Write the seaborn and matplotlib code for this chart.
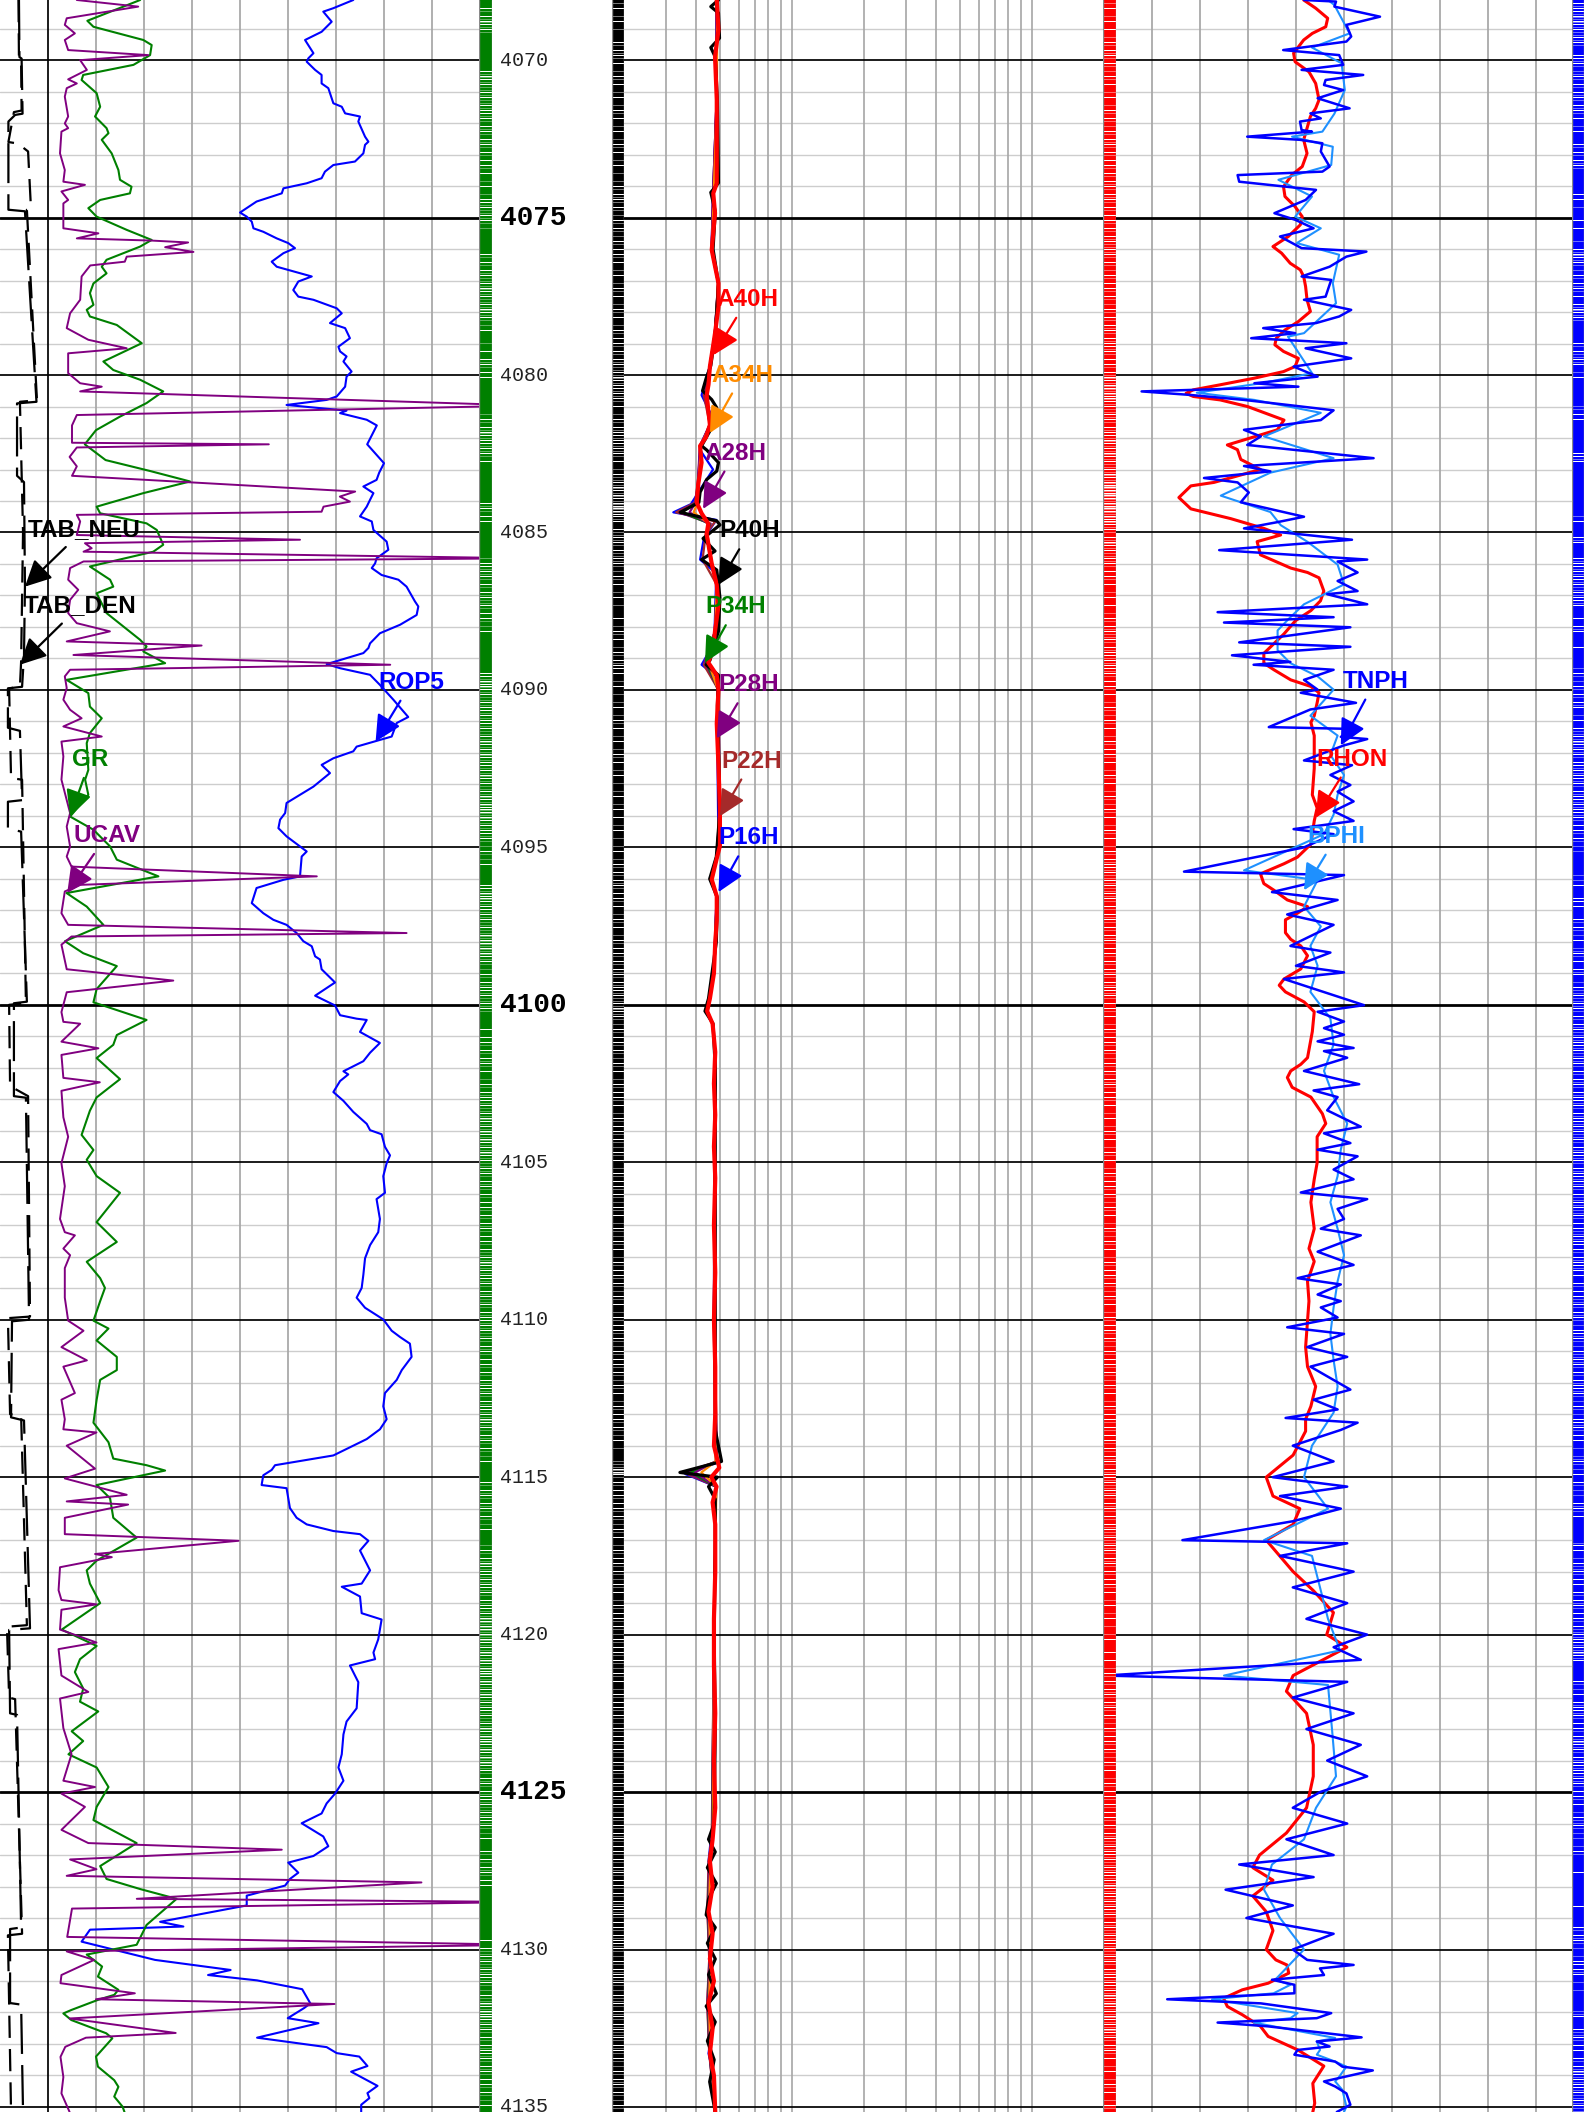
import numpy as np
import matplotlib
matplotlib.use("Agg")
import matplotlib.pyplot as plt
from matplotlib import font_manager
from matplotlib.colors import ListedColormap
import seaborn as sns

sns.set_theme(style="white")
plt.rcParams["font.family"] = ["DejaVu Sans"]

TOP, BASE = 4068.09, 4135.16

# ---------------- track 1 curves (depth ft, value) ----------------
GR = [(4068.09, 43.8), (4068.75, 27.3), (4068.94, 29.2), (4069.36, 44.8), (4069.52, 47.4), (4069.84, 46.9),
      (4070.15, 41.7), (4070.47, 26.0), (4070.63, 25.5), (4071.05, 30.2), (4071.48, 31.3), (4071.79, 29.7),
      (4072.16, 33.3), (4072.32, 33.9), (4072.53, 31.8), (4072.96, 34.9), (4073.49, 37.0), (4073.80, 37.5),
      (4074.02, 41.1), (4074.23, 40.6), (4074.44, 31.3), (4074.70, 27.6), (4074.97, 30.2), (4075.39, 39.6),
      (4075.71, 47.4), (4075.92, 43.8), (4076.34, 33.3), (4076.56, 31.8), (4076.77, 33.3), (4077.09, 29.2),
      (4077.40, 28.1), (4077.77, 29.2), (4077.93, 27.1), (4078.14, 28.1), (4078.41, 36.5), (4078.99, 44.3),
      (4079.57, 32.3), (4079.84, 35.4), (4080.15, 43.8), (4080.52, 51.0), (4080.89, 45.8), (4081.32, 37.5),
      (4081.75, 30.0), (4082.20, 26.5), (4082.70, 33.0), (4083.05, 47.0), (4083.38, 59.4), (4083.75, 44.8),
      (4084.18, 30.2), (4084.39, 31.3), (4084.71, 45.8), (4084.92, 49.0), (4085.39, 51.0), (4085.61, 47.9),
      (4086.08, 28.1), (4086.50, 34.4), (4086.72, 35.4), (4086.93, 30.2), (4087.56, 33.3), (4088.41, 43.8),
      (4088.62, 45.8), (4088.78, 44.8), (4089.15, 51.6), (4089.68, 20.8), (4090.10, 27.6), (4090.53, 28.1),
      (4090.90, 31.8), (4091.37, 28.1), (4091.69, 27.1), (4092.54, 27.6), (4092.85, 26.6), (4093.33, 27.6),
      (4094.02, 21.9), (4094.44, 29.2), (4094.97, 34.4), (4095.39, 36.5), (4095.92, 49.5), (4096.45, 20.8),
      (4096.88, 27.1), (4097.46, 32.3), (4097.98, 20.3), (4098.36, 26.0), (4098.77, 36.5), (4099.50, 30.2),
      (4099.92, 29.2), (4100.48, 45.8), (4100.96, 36.5), (4101.27, 35.4), (4101.69, 30.2), (4102.36, 37.5),
      (4102.94, 30.2), (4103.36, 28.1), (4104.13, 25.5), (4104.61, 29.2), (4104.92, 27.1), (4105.44, 30.2),
      (4105.97, 37.5), (4106.90, 30.2), (4107.53, 36.5), (4108.16, 27.1), (4108.68, 31.3), (4108.99, 32.8),
      (4109.41, 31.3), (4110.03, 29.2), (4110.28, 33.9), (4110.66, 30.2), (4111.18, 36.5), (4111.60, 36.5),
      (4111.91, 31.3), (4112.54, 30.2), (4113.27, 29.2), (4113.89, 33.9), (4114.41, 35.4), (4114.62, 45.8),
      (4114.79, 51.6), (4115.25, 30.2), (4115.67, 34.4), (4116.29, 35.4), (4116.92, 42.7), (4117.65, 30.2),
      (4117.96, 27.1), (4118.38, 28.1), (4119.00, 31.3), (4119.84, 19.3), (4120.36, 30.2), (4120.78, 25.0),
      (4121.19, 23.4), (4121.71, 26.0), (4122.13, 25.0), (4122.44, 30.7), (4123.07, 22.4), (4123.38, 26.0),
      (4123.80, 21.4), (4124.22, 30.2), (4124.84, 33.9), (4125.47, 30.2), (4125.89, 29.2), (4126.62, 42.7),
      (4127.35, 31.3), (4127.76, 33.3), (4128.08, 43.8), (4128.39, 55.2), (4129.22, 45.8), (4129.85, 42.7),
      (4130.16, 27.1), (4130.54, 31.9), (4130.86, 30.6), (4131.28, 37.0), (4131.44, 35.7), (4131.60, 30.6),
      (4131.92, 22.3), (4132.03, 19.8), (4132.24, 22.3), (4132.66, 33.2), (4132.82, 35.1), (4133.40, 30.0),
      (4133.72, 30.6), (4134.15, 35.7), (4134.36, 37.0), (4134.67, 35.7), (4134.99, 38.3), (4135.16, 38.9)]

UCAV = [(4068.09, 7.60), (4068.30, 8.88), (4068.67, 7.39), (4068.88, 7.35), (4069.15, 7.56), (4069.36, 7.35),
        (4069.68, 7.42), (4069.84, 9.09), (4070.00, 7.67), (4070.31, 7.81), (4070.61, 7.42), (4070.74, 7.60),
        (4070.89, 7.39), (4071.16, 7.35), (4071.79, 7.42), (4072.01, 7.35), (4072.16, 7.42), (4072.27, 7.28),
        (4072.96, 7.25), (4073.49, 7.35), (4073.86, 7.32), (4073.96, 7.77), (4074.17, 7.28), (4074.44, 7.42),
        (4074.55, 7.32), (4075.34, 7.32), (4075.50, 8.05), (4075.66, 7.60), (4075.73, 9.16), (4075.79, 9.92),
        (4075.94, 9.44), (4076.09, 10.03), (4076.24, 8.64), (4076.40, 8.60), (4076.52, 7.88), (4076.87, 7.70),
        (4077.61, 7.67), (4078.04, 7.46), (4078.51, 7.39), (4078.88, 7.84), (4079.15, 8.64), (4079.31, 7.42),
        (4079.94, 7.42), (4080.26, 7.67), (4080.37, 8.12), (4080.52, 7.67), (4080.97, 17.0), (4081.27, 7.60),
        (4081.60, 7.50), (4082.15, 7.50), (4082.20, 11.60), (4082.30, 7.60), (4082.60, 7.45), (4082.90, 7.60),
        (4083.20, 7.50), (4083.33, 9.06), (4083.70, 13.40), (4083.86, 13.08), (4084.02, 13.29), (4084.18, 12.74),
        (4084.34, 12.70), (4084.44, 7.60), (4084.65, 7.67), (4085.08, 7.60), (4085.23, 12.25), (4085.34, 7.77),
        (4085.50, 7.91), (4085.61, 7.74), (4085.82, 17.0), (4085.92, 7.74), (4086.13, 7.46), (4086.50, 7.42),
        (4086.82, 7.63), (4087.14, 7.46), (4087.56, 7.42), (4087.88, 7.60), (4088.14, 8.29), (4088.46, 7.39),
        (4088.59, 10.20), (4088.89, 7.53), (4089.20, 14.13), (4089.36, 7.46), (4089.57, 7.35), (4089.94, 7.39),
        (4090.31, 7.32), (4090.63, 7.46), (4090.90, 7.70), (4091.16, 7.32), (4091.48, 8.12), (4091.64, 7.28),
        (4092.11, 7.32), (4092.85, 7.28), (4093.49, 7.39), (4093.91, 7.46), (4094.34, 7.39), (4094.97, 7.46),
        (4095.29, 7.39), (4095.61, 7.49), (4095.92, 12.60), (4096.19, 7.67), (4096.40, 7.35), (4097.09, 7.28),
        (4097.46, 7.42), (4097.72, 14.47), (4097.83, 7.49), (4098.09, 7.28), (4098.87, 7.39), (4099.23, 9.61),
        (4099.60, 7.39), (4100.23, 7.28), (4100.54, 7.32), (4100.60, 7.67), (4101.17, 7.28), (4101.38, 8.05),
        (4101.59, 7.28), (4102.32, 7.32), (4102.46, 8.08), (4102.73, 7.28), (4103.57, 7.32), (4104.19, 7.42),
        (4105.03, 7.28), (4105.76, 7.35), (4106.80, 7.25), (4107.22, 7.35), (4107.32, 7.56), (4107.74, 7.32),
        (4107.95, 7.46), (4108.36, 7.35), (4109.30, 7.35), (4110.03, 7.42), (4110.35, 7.74), (4110.87, 7.28),
        (4111.29, 7.81), (4111.49, 7.32), (4112.33, 7.56), (4112.54, 7.28), (4113.16, 7.35), (4113.48, 7.32),
        (4113.58, 8.01), (4114.00, 7.39), (4114.73, 7.98), (4115.04, 7.35), (4115.56, 8.64), (4115.77, 7.39),
        (4115.87, 8.67), (4116.29, 7.35), (4116.81, 7.35), (4117.02, 10.97), (4117.44, 7.98), (4117.54, 8.33),
        (4117.86, 7.25), (4118.59, 7.22), (4118.90, 7.28), (4119.04, 8.01), (4119.21, 7.28), (4119.84, 7.25),
        (4120.25, 8.01), (4120.46, 7.22), (4121.30, 7.28), (4121.82, 7.84), (4122.03, 7.25), (4122.97, 7.32),
        (4123.80, 7.49), (4124.64, 7.32), (4124.84, 7.98), (4125.05, 7.28), (4125.47, 7.77), (4126.20, 7.28),
        (4126.62, 7.84), (4126.83, 11.87), (4127.14, 7.46), (4127.45, 8.01), (4127.66, 7.39), (4127.87, 14.78),
        (4128.39, 8.85), (4128.49, 17.0), (4128.70, 7.50), (4129.60, 7.40), (4129.85, 17.0), (4130.06, 7.39),
        (4130.33, 7.96), (4130.81, 7.28), (4131.07, 7.26), (4131.39, 8.81), (4131.58, 8.00), (4131.73, 12.97),
        (4132.19, 7.45), (4132.65, 9.66), (4132.80, 7.79), (4133.09, 7.36), (4133.41, 7.26), (4134.05, 7.32),
        (4134.57, 7.28), (4135.16, 7.45)]

ROP5 = [(4068.09, 147.2), (4068.35, 138.9), (4068.46, 134.7), (4068.78, 138.2), (4069.10, 134.0), (4069.36, 127.1),
        (4069.78, 130.6), (4069.94, 128.5), (4070.05, 127.8), (4070.31, 131.3), (4070.47, 134.0), (4070.74, 134.0),
        (4070.89, 136.8), (4071.37, 138.9), (4071.48, 142.4), (4071.69, 143.8), (4071.79, 150.0), (4071.95, 149.3),
        (4072.43, 152.1), (4072.59, 153.5), (4072.69, 152.1), (4072.96, 151.4), (4073.22, 147.9), (4073.33, 138.9),
        (4073.54, 135.4), (4073.75, 134.0), (4073.91, 127.8), (4074.07, 118.1), (4074.23, 117.4), (4074.49, 106.9),
        (4074.84, 100.0), (4074.97, 102.8), (4075.13, 104.9), (4075.34, 105.6), (4075.45, 109.7), (4075.66, 115.3),
        (4075.81, 120.1), (4075.97, 122.9), (4076.13, 118.1), (4076.40, 113.2), (4076.56, 115.3), (4076.87, 129.9),
        (4077.03, 124.3), (4077.30, 122.2), (4077.51, 124.3), (4077.61, 130.6), (4077.88, 140.3), (4078.04, 142.4),
        (4078.35, 137.5), (4078.51, 143.8), (4078.83, 145.8), (4079.10, 141.0), (4079.25, 141.7), (4079.41, 144.4),
        (4079.57, 143.1), (4079.89, 146.5), (4080.05, 144.4), (4080.37, 143.8), (4080.68, 140.3), (4080.79, 136.1),
        (4080.95, 119.4), (4081.13, 144.4), (4081.21, 141.7), (4081.42, 152.8), (4081.60, 157.0), (4082.20, 153.0),
        (4082.80, 160.0), (4083.10, 158.0), (4083.33, 156.9), (4083.54, 151.4), (4083.75, 155.6), (4083.96, 154.2),
        (4084.18, 152.8), (4084.49, 150.0), (4084.65, 154.9), (4084.92, 155.6), (4085.29, 161.1), (4085.55, 161.8),
        (4085.82, 156.9), (4085.98, 156.3), (4086.13, 154.9), (4086.35, 159.0), (4086.50, 166.0), (4086.72, 169.4),
        (4087.19, 172.9), (4087.35, 174.3), (4087.62, 173.6), (4087.93, 166.7), (4088.20, 158.3), (4088.52, 154.2),
        (4088.67, 153.5), (4088.83, 151.4), (4088.99, 144.4), (4089.18, 136.1), (4089.31, 141.7), (4089.52, 154.2),
        (4089.84, 158.3), (4090.31, 163.9), (4090.86, 170.1), (4091.05, 165.3), (4091.48, 163.2), (4091.80, 148.6),
        (4091.95, 147.2), (4092.17, 138.9), (4092.38, 134.0), (4092.64, 137.5), (4093.07, 130.6), (4093.59, 119.4),
        (4093.91, 118.8), (4094.12, 116.7), (4094.39, 116.0), (4094.65, 119.4), (4094.97, 125.0), (4095.13, 127.8),
        (4095.29, 125.7), (4095.92, 125.0), (4096.03, 118.1), (4096.29, 106.9), (4096.77, 104.9), (4097.09, 109.7),
        (4097.30, 113.9), (4097.46, 119.4), (4097.72, 123.6), (4097.98, 126.4), (4098.14, 129.9), (4098.46, 131.3),
        (4098.56, 133.3), (4098.87, 134.0), (4099.29, 139.6), (4099.71, 131.3), (4100.02, 139.6), (4100.33, 141.7),
        (4100.44, 148.6), (4100.48, 152.8), (4100.86, 150.0), (4101.21, 158.3), (4101.52, 154.2), (4101.79, 151.4),
        (4102.11, 143.1), (4102.21, 145.1), (4102.42, 141.7), (4102.77, 138.9), (4103.05, 143.1), (4103.40, 147.2),
        (4103.78, 152.8), (4103.98, 154.2), (4104.11, 159.0), (4104.51, 160.4), (4104.78, 162.5), (4105.03, 161.1),
        (4105.44, 159.7), (4105.97, 160.4), (4106.17, 156.9), (4106.80, 158.3), (4107.22, 157.6), (4107.63, 154.2),
        (4108.05, 152.1), (4108.57, 151.4), (4108.99, 150.7), (4109.30, 148.6), (4109.62, 152.1), (4109.99, 159.7),
        (4110.35, 163.2), (4110.55, 166.7), (4110.76, 170.8), (4111.18, 171.5), (4111.60, 167.4), (4111.91, 165.3),
        (4112.33, 160.4), (4112.75, 159.7), (4113.16, 161.1), (4113.48, 158.3), (4113.79, 152.8), (4114.31, 138.9),
        (4114.62, 114.6), (4114.77, 113.2), (4114.94, 109.7), (4115.25, 109.0), (4115.35, 119.4), (4115.98, 120.8),
        (4116.29, 123.6), (4116.50, 127.8), (4116.71, 138.9), (4116.81, 150.0), (4117.02, 153.5), (4117.33, 150.0),
        (4117.96, 154.2), (4118.38, 150.7), (4118.48, 142.4), (4118.79, 150.0), (4119.32, 150.7), (4119.52, 159.0),
        (4120.15, 157.6), (4120.57, 155.6), (4120.78, 156.3), (4120.98, 145.8), (4121.51, 149.3), (4122.34, 148.6),
        (4122.76, 144.4), (4123.17, 143.1), (4123.80, 142.4), (4124.22, 141.0), (4124.64, 143.1), (4125.05, 139.6),
        (4125.36, 136.1), (4125.68, 134.0), (4125.99, 125.7), (4126.41, 134.7), (4126.72, 136.8), (4127.03, 130.6),
        (4127.24, 120.1), (4127.56, 124.3), (4127.76, 120.8), (4127.97, 118.8), (4128.29, 102.8), (4128.60, 102.8),
        (4129.12, 66.7), (4129.27, 76.4), (4129.37, 37.5), (4129.75, 34.0), (4130.33, 64.6), (4130.65, 96.1),
        (4130.81, 86.7), (4130.98, 107.1), (4131.26, 125.9), (4131.71, 129.3), (4131.86, 126.7), (4132.18, 119.9),
        (4132.34, 132.7), (4132.80, 107.1), (4133.10, 136.1), (4133.29, 140.3), (4133.40, 149.7), (4133.70, 153.1),
        (4133.88, 146.3), (4134.33, 157.3), (4134.56, 153.1), (4134.72, 153.9), (4134.93, 150.5), (4135.16, 150.5)]

TAB_NEU = [(4068.09, 0.79), (4069.90, 0.81), (4069.95, 0.90), (4071.70, 0.94), (4071.74, 0.63), (4071.95, 0.35),
           (4074.75, 0.35), (4074.80, 1.04), (4080.85, 1.52), (4080.90, 0.71), (4083.20, 0.71), (4083.40, 1.00),
           (4086.70, 1.04), (4088.90, 1.00), (4089.90, 0.92), (4089.95, 0.33), (4091.20, 0.33), (4091.30, 0.83),
           (4093.50, 0.92), (4093.55, 0.33), (4094.40, 0.33), (4094.50, 0.88), (4099.90, 1.12), (4099.95, 0.58),
           (4102.90, 0.58), (4102.95, 1.08), (4110.00, 1.21), (4110.05, 0.50), (4113.10, 0.46), (4113.20, 1.00),
           (4119.80, 1.25), (4119.85, 0.38), (4122.50, 0.42), (4122.55, 0.71), (4129.30, 0.88), (4129.35, 0.42),
           (4131.70, 0.42), (4131.75, 0.88), (4135.16, 0.96)]

TAB_DEN = [(4068.09, 0.77), (4070.00, 0.79), (4070.05, 0.88), (4071.60, 0.90), (4071.65, 0.58), (4072.60, 0.35),
           (4072.65, 0.75), (4072.90, 1.17), (4074.70, 1.29), (4074.75, 1.12), (4080.80, 1.54), (4080.85, 0.83),
           (4085.00, 0.96), (4089.10, 0.88), (4089.90, 0.83), (4089.95, 0.38), (4092.80, 0.46), (4092.85, 0.92),
           (4099.95, 1.08), (4100.00, 0.38), (4102.60, 0.42), (4102.65, 0.58), (4102.90, 1.17), (4109.90, 1.25),
           (4109.95, 0.33), (4113.00, 0.42), (4113.05, 0.88), (4119.70, 1.12), (4119.75, 0.29), (4122.00, 0.38),
           (4122.05, 0.63), (4129.50, 0.92), (4129.55, 0.33), (4135.16, 0.46)]

# ---------------- track 2 resistivities (ohm.m) ----------------
A40H = [(4068.09, 4.87), (4069.04, 4.95), (4069.89, 4.79), (4071.26, 4.87), (4073.91, 4.87), (4074.23, 4.71),
        (4074.86, 4.79), (4076.03, 4.64), (4077.08, 4.95), (4077.83, 4.95), (4078.67, 4.79), (4079.04, 4.71),
        (4079.73, 4.56), (4080.30, 4.50), (4080.64, 4.42), (4081.58, 4.56), (4081.98, 4.39), (4082.25, 4.15),
        (4082.78, 4.21), (4083.45, 4.08), (4084.05, 4.02), (4084.39, 4.21), (4084.72, 4.49), (4085.05, 4.42),
        (4085.99, 4.64), (4086.66, 4.87), (4087.33, 4.95), (4088.13, 4.79), (4088.66, 4.71), (4089.13, 4.49),
        (4089.53, 4.87), (4090.00, 4.95), (4091.07, 4.87), (4092.41, 4.95), (4093.74, 5.02), (4094.95, 5.02),
        (4095.35, 4.87), (4096.02, 4.64), (4096.55, 4.87), (4097.33, 4.87), (4098.00, 4.80), (4099.00, 4.74),
        (4099.80, 4.56), (4100.20, 4.44), (4100.60, 4.68), (4101.50, 4.80), (4102.50, 4.74), (4103.50, 4.80),
        (4104.50, 4.74), (4105.50, 4.80), (4107.00, 4.74), (4108.50, 4.80), (4110.00, 4.74), (4111.50, 4.80),
        (4113.00, 4.80), (4114.00, 4.74), (4114.70, 4.99), (4115.00, 4.62), (4115.30, 4.86), (4115.80, 4.68),
        (4116.50, 4.80), (4118.00, 4.80), (4119.50, 4.74), (4121.00, 4.74), (4122.50, 4.80), (4124.00, 4.74),
        (4125.50, 4.80), (4126.50, 4.68), (4127.20, 4.56), (4128.00, 4.68), (4128.80, 4.50), (4129.50, 4.68),
        (4130.30, 4.56), (4131.00, 4.74), (4131.70, 4.50), (4132.50, 4.68), (4133.30, 4.56), (4134.00, 4.74),
        (4135.16, 4.80)]

A34H = [(4068.09, 4.89), (4071.26, 4.88), (4074.23, 4.73), (4076.03, 4.66), (4077.08, 4.93), (4078.67, 4.80),
        (4079.73, 4.58), (4080.64, 4.45), (4081.58, 4.58), (4082.25, 4.18), (4083.45, 4.10), (4084.05, 4.05),
        (4084.36, 3.90), (4084.72, 4.52), (4085.05, 4.45), (4085.99, 4.66), (4086.66, 4.88), (4088.13, 4.80),
        (4089.13, 4.50), (4090.00, 4.93), (4093.74, 5.00), (4095.35, 4.88), (4096.02, 4.66), (4096.55, 4.88),
        (4099.00, 4.75), (4100.20, 4.46), (4100.60, 4.69), (4101.50, 4.80), (4110.00, 4.75), (4114.50, 4.82),
        (4114.85, 4.20), (4115.30, 4.85), (4120.00, 4.75), (4126.50, 4.69), (4127.20, 4.58), (4128.80, 4.52),
        (4130.30, 4.58), (4131.70, 4.52), (4133.30, 4.58), (4135.16, 4.80)]

A28H = [(4068.09, 4.86), (4071.26, 4.86), (4074.23, 4.70), (4076.03, 4.63), (4077.08, 4.93), (4078.67, 4.78),
        (4079.73, 4.55), (4080.64, 4.40), (4081.58, 4.55), (4082.25, 4.14), (4083.45, 4.06), (4084.05, 3.98),
        (4084.36, 3.75), (4084.72, 4.50), (4085.05, 4.40), (4085.99, 4.63), (4086.66, 4.86), (4088.13, 4.78),
        (4089.13, 4.47), (4090.00, 4.93), (4093.74, 5.00), (4095.35, 4.86), (4096.02, 4.62), (4096.55, 4.86),
        (4099.00, 4.73), (4100.20, 4.43), (4100.60, 4.67), (4101.50, 4.79), (4110.00, 4.73), (4114.50, 4.82),
        (4114.85, 3.95), (4115.30, 4.84), (4120.00, 4.73), (4126.50, 4.67), (4127.20, 4.55), (4128.80, 4.49),
        (4130.30, 4.55), (4131.70, 4.49), (4133.30, 4.55), (4135.16, 4.79)]

P40H = [(4068.09, 4.95), (4068.30, 4.60), (4068.50, 4.95), (4069.30, 5.00), (4069.60, 4.60), (4069.90, 4.80),
        (4071.30, 4.90), (4073.90, 4.95), (4074.20, 4.60), (4074.80, 4.80), (4076.00, 4.70), (4077.10, 4.95),
        (4078.70, 4.80), (4079.70, 4.60), (4080.10, 4.40), (4080.50, 4.25), (4080.78, 4.64), (4081.04, 4.87),
        (4081.58, 4.71), (4082.25, 4.21), (4082.38, 4.42), (4082.78, 4.95), (4083.05, 4.87), (4083.32, 4.42),
        (4083.72, 4.15), (4084.05, 4.10), (4084.36, 3.43), (4084.63, 4.87), (4084.76, 5.02), (4085.19, 4.27),
        (4085.59, 4.79), (4085.86, 4.21), (4086.19, 4.87), (4087.06, 5.02), (4088.13, 4.95), (4089.06, 4.56),
        (4089.20, 4.40), (4089.53, 4.95), (4090.50, 4.90), (4092.00, 4.95), (4094.00, 5.00), (4095.30, 4.85),
        (4096.00, 4.55), (4096.60, 4.90), (4098.00, 4.85), (4099.80, 4.50), (4100.20, 4.35), (4100.60, 4.70),
        (4102.00, 4.80), (4105.00, 4.80), (4108.00, 4.80), (4111.00, 4.80), (4113.50, 4.80), (4114.50, 5.10),
        (4114.85, 3.42), (4115.00, 4.90), (4115.30, 4.50), (4115.70, 4.80), (4117.00, 4.80), (4120.00, 4.75),
        (4123.00, 4.80), (4126.00, 4.75), (4126.50, 4.50), (4126.90, 4.80), (4127.40, 4.45), (4127.90, 4.85),
        (4128.40, 4.50), (4128.90, 4.40), (4129.30, 4.80), (4129.80, 4.45), (4130.30, 4.80), (4130.80, 4.50),
        (4131.40, 4.85), (4131.80, 4.40), (4132.30, 4.80), (4132.90, 4.45), (4133.50, 4.75), (4134.20, 4.55),
        (4135.16, 4.80)]

P34H = [(4068.09, 4.88), (4071.26, 4.87), (4074.23, 4.72), (4076.03, 4.65), (4077.08, 4.94), (4078.67, 4.79),
        (4079.73, 4.57), (4080.64, 4.40), (4081.58, 4.56), (4082.25, 4.16), (4083.45, 4.08), (4084.05, 4.00),
        (4084.36, 3.50), (4084.72, 4.55), (4085.05, 4.42), (4085.99, 4.64), (4086.66, 4.87), (4088.13, 4.79),
        (4089.13, 4.40), (4090.00, 4.94), (4093.74, 5.01), (4095.35, 4.87), (4096.02, 4.63), (4096.55, 4.87),
        (4099.00, 4.74), (4100.20, 4.42), (4100.60, 4.68), (4101.50, 4.80), (4110.00, 4.74), (4114.50, 4.85),
        (4114.85, 3.80), (4115.30, 4.84), (4120.00, 4.74), (4126.50, 4.66), (4127.20, 4.54), (4128.80, 4.48),
        (4130.30, 4.55), (4131.70, 4.47), (4133.30, 4.55), (4135.16, 4.79)]

P28H = [(4068.09, 4.87), (4071.26, 4.87), (4074.23, 4.71), (4076.03, 4.64), (4077.08, 4.95), (4078.67, 4.79),
        (4079.73, 4.56), (4080.64, 4.36), (4081.58, 4.56), (4082.25, 4.15), (4083.45, 4.07), (4084.05, 3.98),
        (4084.36, 3.40), (4084.72, 4.60), (4085.05, 4.40), (4085.99, 4.64), (4086.66, 4.87), (4088.13, 4.79),
        (4089.13, 4.35), (4090.00, 4.95), (4093.74, 5.02), (4095.35, 4.87), (4096.02, 4.62), (4096.55, 4.87),
        (4099.00, 4.74), (4100.20, 4.40), (4100.60, 4.68), (4101.50, 4.80), (4110.00, 4.74), (4114.50, 4.88),
        (4114.85, 3.65), (4115.30, 4.84), (4120.00, 4.74), (4126.50, 4.65), (4127.20, 4.52), (4128.80, 4.46),
        (4130.30, 4.54), (4131.70, 4.45), (4133.30, 4.54), (4135.16, 4.79)]

P22H = [(4068.09, 4.87), (4071.26, 4.86), (4074.23, 4.70), (4076.03, 4.64), (4077.08, 4.94), (4078.67, 4.78),
        (4079.73, 4.55), (4080.64, 4.30), (4081.58, 4.56), (4082.38, 4.16), (4083.45, 4.06), (4084.05, 3.95),
        (4084.36, 3.30), (4084.65, 4.80), (4085.05, 4.38), (4085.86, 4.25), (4086.66, 4.87), (4088.13, 4.79),
        (4089.20, 4.30), (4090.00, 4.95), (4093.74, 5.02), (4095.35, 4.87), (4096.02, 4.61), (4096.55, 4.87),
        (4099.00, 4.74), (4100.20, 4.40), (4100.60, 4.68), (4101.50, 4.80), (4110.00, 4.74), (4114.50, 4.90),
        (4114.85, 3.55), (4115.30, 4.84), (4120.00, 4.74), (4126.50, 4.64), (4127.20, 4.50), (4128.80, 4.45),
        (4130.30, 4.53), (4131.70, 4.44), (4133.30, 4.53), (4135.16, 4.79)]

P16H = [(4068.09, 4.86), (4071.26, 4.86), (4074.23, 4.70), (4076.03, 4.63), (4077.08, 4.94), (4078.67, 4.78),
        (4079.73, 4.55), (4080.64, 4.21), (4081.20, 4.58), (4081.58, 4.55), (4082.38, 4.15), (4083.00, 4.70),
        (4083.70, 4.10), (4084.10, 3.80), (4084.36, 3.21), (4084.60, 4.85), (4085.20, 4.30), (4085.86, 4.15),
        (4086.30, 4.85), (4088.50, 4.75), (4089.20, 4.21), (4089.60, 4.90), (4092.00, 4.90), (4095.00, 4.95),
        (4096.02, 4.60), (4096.55, 4.86), (4099.00, 4.74), (4100.20, 4.42), (4100.60, 4.68), (4101.50, 4.80),
        (4110.00, 4.74), (4114.55, 4.85), (4114.90, 3.60), (4115.30, 4.84), (4120.00, 4.74), (4124.00, 4.74),
        (4125.50, 4.79), (4126.50, 4.60), (4127.20, 4.50), (4128.00, 4.66), (4128.80, 4.45), (4129.50, 4.66),
        (4130.30, 4.52), (4131.00, 4.72), (4131.80, 4.45), (4132.50, 4.66), (4133.30, 4.50), (4134.00, 4.72),
        (4135.16, 4.78)]

# ---------------- track 3 porosity / density ----------------
RHON = [(4068.09, 2.366), (4068.35, 2.391), (4068.67, 2.416), (4068.94, 2.412), (4069.15, 2.384), (4069.36, 2.366),
        (4069.78, 2.345), (4070.05, 2.348), (4070.37, 2.377), (4070.74, 2.391), (4071.26, 2.398), (4071.53, 2.391),
        (4071.79, 2.380), (4072.16, 2.373), (4072.53, 2.366), (4072.96, 2.373), (4073.38, 2.363), (4073.65, 2.341),
        (4074.02, 2.324), (4074.33, 2.327), (4074.65, 2.348), (4074.97, 2.363), (4075.23, 2.359), (4075.60, 2.334),
        (4075.92, 2.302), (4076.13, 2.320), (4076.45, 2.338), (4076.66, 2.359), (4076.87, 2.366), (4077.19, 2.370),
        (4077.61, 2.373), (4077.98, 2.380), (4078.30, 2.355), (4078.57, 2.327), (4078.83, 2.309), (4079.04, 2.306),
        (4079.25, 2.324), (4079.47, 2.355), (4079.73, 2.348), (4079.89, 2.324), (4080.10, 2.263), (4080.31, 2.192),
        (4080.47, 2.136), (4080.58, 2.121), (4080.68, 2.136), (4080.79, 2.192), (4081.00, 2.249), (4081.43, 2.325),
        (4081.74, 2.311), (4082.22, 2.207), (4082.37, 2.228), (4082.68, 2.235), (4083.00, 2.276), (4083.41, 2.179),
        (4083.52, 2.131), (4083.89, 2.106), (4084.25, 2.131), (4084.56, 2.214), (4084.87, 2.283), (4085.08, 2.318),
        (4085.29, 2.269), (4085.71, 2.276), (4086.13, 2.339), (4086.27, 2.374), (4086.44, 2.398), (4086.86, 2.408),
        (4087.17, 2.401), (4087.48, 2.381), (4087.80, 2.349), (4088.22, 2.325), (4088.53, 2.304), (4088.84, 2.283),
        (4089.15, 2.283), (4089.36, 2.304), (4089.68, 2.339), (4089.89, 2.381), (4090.09, 2.398), (4090.41, 2.394),
        (4090.82, 2.388), (4091.03, 2.381), (4091.45, 2.388), (4092.49, 2.388), (4093.33, 2.384), (4093.75, 2.394),
        (4094.16, 2.388), (4094.90, 2.381), (4095.31, 2.353), (4095.52, 2.325), (4095.84, 2.276), (4096.15, 2.283),
        (4096.36, 2.304), (4096.67, 2.332), (4096.88, 2.374), (4097.09, 2.353), (4097.30, 2.328), (4097.71, 2.328),
        (4097.92, 2.339), (4098.13, 2.360), (4098.44, 2.374), (4098.86, 2.360), (4099.18, 2.325), (4099.38, 2.315),
        (4099.59, 2.328), (4099.91, 2.367), (4100.22, 2.388), (4100.85, 2.384), (4101.68, 2.374), (4101.89, 2.360),
        (4102.10, 2.339), (4102.31, 2.332), (4102.62, 2.342), (4102.93, 2.381), (4103.46, 2.405), (4103.77, 2.412),
        (4104.19, 2.394), (4105.02, 2.394), (4105.54, 2.388), (4106.27, 2.381), (4107.11, 2.388), (4107.74, 2.377),
        (4108.15, 2.388), (4108.78, 2.374), (4109.41, 2.377), (4110.03, 2.374), (4110.87, 2.370), (4111.49, 2.374),
        (4112.12, 2.391), (4112.75, 2.381), (4113.16, 2.370), (4113.54, 2.370), (4114.30, 2.344), (4115.00, 2.288),
        (4115.60, 2.302), (4116.00, 2.358), (4116.50, 2.344), (4117.00, 2.288), (4118.00, 2.344), (4118.60, 2.386),
        (4119.30, 2.428), (4120.00, 2.414), (4120.40, 2.456), (4121.30, 2.344), (4121.80, 2.330), (4122.50, 2.372),
        (4123.50, 2.386), (4124.50, 2.386), (4125.50, 2.372), (4126.30, 2.330), (4127.00, 2.274), (4127.40, 2.260),
        (4127.80, 2.302), (4128.30, 2.260), (4128.80, 2.288), (4129.40, 2.302), (4130.00, 2.288), (4130.33, 2.308),
        (4130.49, 2.331), (4130.75, 2.335), (4131.07, 2.292), (4131.28, 2.238), (4131.55, 2.199), (4131.81, 2.207),
        (4132.07, 2.238), (4132.44, 2.276), (4132.76, 2.292), (4133.19, 2.354), (4133.70, 2.408), (4134.25, 2.385),
        (4134.88, 2.389), (4135.16, 2.385)]

TNPH = [(4068.09, 0.200), (4068.14, 0.160), (4068.30, 0.162), (4068.62, 0.105), (4068.88, 0.147), (4069.25, 0.141),
        (4069.41, 0.147), (4069.68, 0.226), (4069.84, 0.156), (4070.15, 0.151), (4070.31, 0.203), (4070.47, 0.126),
        (4070.63, 0.173), (4070.79, 0.175), (4070.95, 0.151), (4071.21, 0.183), (4071.53, 0.143), (4071.69, 0.192),
        (4071.85, 0.179), (4071.95, 0.205), (4072.22, 0.203), (4072.27, 0.190), (4072.43, 0.271), (4072.53, 0.205),
        (4072.64, 0.177), (4072.90, 0.179), (4073.38, 0.168), (4073.54, 0.177), (4073.65, 0.283), (4073.86, 0.281),
        (4074.12, 0.185), (4074.44, 0.198), (4074.86, 0.237), (4075.07, 0.211), (4075.34, 0.188), (4075.60, 0.230),
        (4075.97, 0.203), (4076.08, 0.122), (4076.24, 0.147), (4076.56, 0.168), (4076.87, 0.203), (4076.98, 0.166),
        (4077.51, 0.173), (4077.61, 0.200), (4077.93, 0.141), (4078.14, 0.156), (4078.35, 0.185), (4078.51, 0.251),
        (4078.67, 0.211), (4078.83, 0.266), (4078.99, 0.147), (4079.15, 0.198), (4079.47, 0.141), (4079.73, 0.213),
        (4080.05, 0.183), (4080.26, 0.262), (4080.37, 0.207), (4080.52, 0.403), (4080.63, 0.343), (4080.79, 0.275),
        (4080.95, 0.220), (4081.12, 0.163), (4081.43, 0.179), (4081.74, 0.275), (4081.95, 0.254), (4082.22, 0.271),
        (4082.64, 0.113), (4082.89, 0.275), (4083.06, 0.242), (4083.27, 0.325), (4083.41, 0.283), (4083.73, 0.269),
        (4084.04, 0.279), (4084.50, 0.200), (4084.67, 0.233), (4084.87, 0.275), (4085.23, 0.140), (4085.56, 0.306),
        (4085.86, 0.121), (4085.92, 0.158), (4086.27, 0.133), (4086.54, 0.158), (4086.86, 0.133), (4086.96, 0.171),
        (4087.28, 0.121), (4087.53, 0.308), (4087.69, 0.163), (4087.86, 0.300), (4088.01, 0.142), (4088.49, 0.281),
        (4088.63, 0.142), (4088.90, 0.290), (4089.11, 0.217), (4089.20, 0.263), (4089.36, 0.163), (4089.68, 0.200),
        (4089.99, 0.183), (4090.09, 0.204), (4090.41, 0.135), (4090.62, 0.192), (4091.18, 0.244), (4091.24, 0.138),
        (4091.49, 0.154), (4091.56, 0.121), (4091.76, 0.150), (4092.24, 0.200), (4092.39, 0.140), (4092.70, 0.167),
        (4093.02, 0.142), (4093.23, 0.158), (4093.54, 0.138), (4093.85, 0.163), (4094.16, 0.138), (4094.42, 0.213),
        (4094.58, 0.163), (4095.00, 0.200), (4095.77, 0.350), (4095.88, 0.150), (4096.42, 0.240), (4096.67, 0.158),
        (4097.13, 0.221), (4097.46, 0.163), (4098.13, 0.217), (4098.34, 0.167), (4098.76, 0.210), (4098.97, 0.150),
        (4099.18, 0.225), (4100.01, 0.125), (4100.22, 0.183), (4100.53, 0.150), (4100.74, 0.175), (4100.95, 0.150),
        (4101.16, 0.183), (4101.37, 0.138), (4101.47, 0.175), (4101.68, 0.146), (4102.10, 0.200), (4102.52, 0.131),
        (4102.72, 0.188), (4102.93, 0.158), (4103.35, 0.171), (4103.87, 0.129), (4104.08, 0.175), (4104.39, 0.142),
        (4104.60, 0.183), (4104.81, 0.133), (4105.23, 0.163), (4105.54, 0.138), (4105.96, 0.204), (4106.17, 0.121),
        (4106.48, 0.158), (4106.80, 0.150), (4107.11, 0.179), (4107.32, 0.129), (4107.84, 0.183), (4108.26, 0.138),
        (4108.68, 0.208), (4108.88, 0.154), (4109.20, 0.183), (4109.41, 0.154), (4109.61, 0.179), (4109.93, 0.158),
        (4110.24, 0.221), (4110.45, 0.150), (4110.87, 0.196), (4111.18, 0.146), (4111.49, 0.192), (4112.22, 0.142),
        (4112.54, 0.188), (4112.85, 0.158), (4113.12, 0.223), (4113.27, 0.133), (4113.50, 0.154), (4114.00, 0.214),
        (4114.50, 0.163), (4115.00, 0.239), (4115.30, 0.146), (4115.60, 0.230), (4116.00, 0.154), (4116.40, 0.214),
        (4117.00, 0.352), (4117.10, 0.146), (4117.50, 0.230), (4118.00, 0.138), (4118.50, 0.214), (4119.00, 0.146),
        (4119.50, 0.197), (4120.00, 0.121), (4120.40, 0.163), (4120.80, 0.129), (4121.30, 0.449), (4121.50, 0.146),
        (4122.00, 0.214), (4122.50, 0.138), (4123.00, 0.197), (4123.50, 0.129), (4124.00, 0.171), (4124.50, 0.121),
        (4125.00, 0.180), (4125.50, 0.214), (4126.00, 0.146), (4126.50, 0.222), (4127.00, 0.163), (4127.30, 0.281),
        (4127.70, 0.188), (4128.10, 0.298), (4128.60, 0.214), (4129.00, 0.272), (4129.50, 0.163), (4130.00, 0.214),
        (4130.33, 0.196), (4130.49, 0.138), (4130.60, 0.180), (4130.81, 0.175), (4130.96, 0.240), (4131.12, 0.212),
        (4131.39, 0.212), (4131.58, 0.371), (4131.71, 0.254), (4132.02, 0.166), (4132.18, 0.184), (4132.32, 0.308),
        (4132.44, 0.245), (4132.79, 0.128), (4132.92, 0.184), (4133.08, 0.168), (4133.19, 0.208), (4133.34, 0.212),
        (4133.56, 0.161), (4133.72, 0.152), (4133.84, 0.114), (4134.19, 0.175), (4134.35, 0.161), (4134.57, 0.147),
        (4134.93, 0.142), (4135.16, 0.159)]

BPHI = [(4068.09, 0.170), (4068.25, 0.162), (4069.15, 0.143), (4069.60, 0.190), (4070.10, 0.153), (4070.95, 0.149),
        (4071.70, 0.162), (4072.27, 0.177), (4072.43, 0.215), (4072.75, 0.164), (4073.33, 0.166), (4073.80, 0.232),
        (4074.33, 0.190), (4074.97, 0.211), (4075.34, 0.179), (4075.81, 0.209), (4076.18, 0.156), (4077.08, 0.164),
        (4077.72, 0.160), (4078.67, 0.200), (4078.78, 0.220), (4079.94, 0.190), (4080.26, 0.253), (4080.56, 0.334),
        (4080.79, 0.262), (4081.20, 0.179), (4081.95, 0.250), (4082.64, 0.163), (4083.10, 0.242), (4083.83, 0.304),
        (4084.35, 0.242), (4084.77, 0.229), (4085.29, 0.196), (4086.02, 0.158), (4086.65, 0.150), (4087.28, 0.200),
        (4087.69, 0.217), (4088.11, 0.233), (4088.74, 0.233), (4089.15, 0.217), (4089.57, 0.183), (4089.99, 0.163),
        (4090.82, 0.192), (4091.45, 0.158), (4092.07, 0.167), (4092.70, 0.150), (4093.33, 0.158), (4093.96, 0.163),
        (4094.58, 0.175), (4095.73, 0.275), (4096.04, 0.183), (4096.88, 0.200), (4097.51, 0.179), (4098.13, 0.192),
        (4098.76, 0.183), (4099.59, 0.192), (4100.43, 0.167), (4101.26, 0.163), (4102.10, 0.175), (4102.93, 0.163),
        (4103.77, 0.146), (4104.60, 0.154), (4105.44, 0.158), (4106.27, 0.167), (4107.11, 0.158), (4107.95, 0.150),
        (4108.78, 0.158), (4109.61, 0.163), (4110.45, 0.167), (4111.28, 0.163), (4112.12, 0.158), (4112.95, 0.163),
        (4114.00, 0.190), (4115.00, 0.200), (4116.00, 0.170), (4117.00, 0.250), (4117.50, 0.190), (4118.50, 0.180),
        (4119.50, 0.170), (4120.50, 0.155), (4121.30, 0.300), (4121.60, 0.170), (4123.00, 0.165), (4124.50, 0.160),
        (4125.50, 0.185), (4126.50, 0.200), (4127.30, 0.240), (4128.10, 0.250), (4129.00, 0.230), (4130.00, 0.200),
        (4130.96, 0.236), (4131.12, 0.217), (4131.39, 0.238), (4131.58, 0.315), (4132.02, 0.208), (4132.18, 0.217),
        (4132.32, 0.263), (4132.81, 0.161), (4132.92, 0.184), (4133.19, 0.180), (4133.34, 0.184), (4133.56, 0.161),
        (4133.72, 0.147), (4134.04, 0.156), (4134.19, 0.161), (4134.46, 0.152), (4134.99, 0.147), (4135.16, 0.150)]

DEPTH_MARKS = list(range(4070, 4136, 5))


def split(pairs):
    d, v = zip(*pairs)
    return np.asarray(d, float), np.asarray(v, float)


def font_available(name):
    try:
        font_manager.findfont(font_manager.FontProperties(family=name, weight="bold"),
                              fallback_to_default=False)
        return True
    except Exception:
        return False


if font_available("Liberation Sans Narrow"):
    LABEL_FONT, LABEL_SIZE = ["Liberation Sans Narrow", "DejaVu Sans"], 20
else:
    LABEL_FONT, LABEL_SIZE = ["Liberation Sans", "DejaVu Sans"], 17.5

# ---------------- layout (pixels) ----------------
W, H = 1584, 2112
fig = plt.figure(figsize=(W / 100, H / 100), dpi=100)
fig.patch.set_facecolor("white")


def panel(x0, w):
    ax = fig.add_axes([x0 / W, 0, w / W, 1])
    ax.set_ylim(BASE, TOP)
    ax.set_axis_off()
    return ax


def depth_grid(ax):
    for d in range(4069, 4136):
        if d % 25 == 0:
            ax.axhline(d, color="black", lw=2.0, zorder=1.2)
        elif d % 5 == 0:
            ax.axhline(d, color="black", lw=1.25, zorder=1.2)
        else:
            ax.axhline(d, color="#cdcdcd", lw=1.0, zorder=0.5)


def overlay(base, lo, hi, log=False):
    ax = base.twiny()
    if log:
        ax.set_xscale("log")
    ax.set_xlim(lo, hi)
    ax.set_ylim(BASE, TOP)
    ax.set_axis_off()
    return ax


def trace(ax, pairs, **kw):
    d, v = split(pairs)
    sns.lineplot(x=v, y=d, orient="y", sort=False, estimator=None, ax=ax, legend=False, **kw)


def tag(host, curve_ax, text, color, text_xy, tip_xy):
    host.annotate(text, xy=tip_xy, xycoords=curve_ax.transData,
                  xytext=text_xy, textcoords=curve_ax.transData,
                  color=color, fontsize=LABEL_SIZE, fontweight="bold", family=LABEL_FONT,
                  ha="center", va="center", zorder=20, annotation_clip=False,
                  arrowprops=dict(arrowstyle="-|>,head_length=0.8,head_width=0.4",
                                  mutation_scale=20, color=color, lw=1.6,
                                  shrinkA=3, shrinkB=0))


# ----- track 1: GR / UCAV / ROP5 / TAB -----
t1 = panel(0, 480)
t1.set_xlim(0, 10)
depth_grid(t1)
for k in range(1, 10):
    t1.axvline(k, color="black" if k == 1 else "#a6a6a6", lw=1.25, zorder=0.8 if k > 1 else 1.1)

rop_ax = overlay(t1, 0, 200)
trace(rop_ax, ROP5, color="#0000ff", lw=1.5)
gr_ax = overlay(t1, 0, 150)
trace(gr_ax, GR, color="#008000", lw=1.5)
cav_ax = overlay(t1, 6, 16)
trace(cav_ax, UCAV, color="#800080", lw=1.4)
tab_ax = overlay(t1, 0, 20)
trace(tab_ax, TAB_NEU, color="black", lw=1.6, linestyle=(0, (18, 5)))
trace(tab_ax, TAB_DEN, color="black", lw=1.6, linestyle=(0, (10, 5)))
lab1 = overlay(t1, 0, 1)

tag(lab1, tab_ax, "TAB_NEU", "black", (3.5, 4084.9), (1.04, 4086.72))
tag(lab1, tab_ax, "TAB_DEN", "black", (3.33, 4087.33), (0.83, 4089.2))
tag(lab1, gr_ax, "GR", "#008000", (28.3, 4092.2), (21.9, 4094.02))
tag(lab1, cav_ax, "UCAV", "#800080", (8.22, 4094.63), (7.4, 4096.45))
tag(lab1, rop_ax, "ROP5", "#0000ff", (171.5, 4089.76), (156.5, 4091.64))

# ----- depth track -----
dt = panel(480, 144)
dt.set_xlim(0, 1)
for d in DEPTH_MARKS:
    bold = d % 25 == 0
    dt.text(20 / 144, d, str(d), transform=dt.get_yaxis_transform(),
            ha="left", va="center", family=["Liberation Mono", "DejaVu Sans Mono"],
            fontsize=20 if bold else 14.4, fontweight="bold" if bold else "normal",
            color="black" if bold else "#222222")

# ----- track 2: array resistivities (log 2 - 200) -----
t2 = panel(624, 480)
t2.set_xscale("log")
t2.set_xlim(2, 200)
depth_grid(t2)
for v in [3, 4, 5, 6, 7, 8, 9, 10, 20, 30, 40, 50, 60, 70, 80, 90, 100]:
    t2.axvline(v, color="#a6a6a6", lw=1.2, zorder=0.8)

res_curves = [("P16H", P16H, "#0000ff", 1.6), ("P22H", P22H, "#a52a2a", 1.6), ("P28H", P28H, "#800080", 1.6),
              ("P34H", P34H, "#008000", 1.6), ("A28H", A28H, "#800080", 1.6), ("A34H", A34H, "#ff8c00", 1.6),
              ("P40H", P40H, "black", 2.3), ("A40H", A40H, "#ff0000", 3.0)]
for name, pairs, col, lw in res_curves:
    trace(t2, pairs, color=col, lw=lw)

tag(t2, t2, "A40H", "#ff0000", (6.54, 4077.6), (4.71, 4079.37))
tag(t2, t2, "A34H", "#ff8c00", (6.23, 4080.0), (4.56, 4081.84))
tag(t2, t2, "A28H", "#800080", (5.80, 4082.48), (4.27, 4084.25))
tag(t2, t2, "P40H", "black", (6.70, 4084.95), (4.95, 4086.66))
tag(t2, t2, "P34H", "#008000", (5.86, 4087.36), (4.35, 4089.13))
tag(t2, t2, "P28H", "#800080", (6.60, 4089.84), (4.87, 4091.54))
tag(t2, t2, "P22H", "#a52a2a", (6.83, 4092.26), (5.02, 4094.01))
tag(t2, t2, "P16H", "#0000ff", (6.60, 4094.70), (4.95, 4096.42))

# ----- track 3: neutron / density -----
t3 = panel(1104, 480)
t3.set_xlim(0, 10)
depth_grid(t3)
for k in range(1, 10):
    t3.axvline(k, color="#a6a6a6", lw=1.25, zorder=0.8)

rho_ax = overlay(t3, 1.95, 2.95)
trace(rho_ax, RHON, color="#ff0000", lw=2.2)
phi_ax = overlay(t3, 0.45, -0.15)
trace(phi_ax, BPHI, color="#1e90ff", lw=1.5)
trace(phi_ax, TNPH, color="#0000ff", lw=1.8)
lab3 = overlay(t3, 0, 1)

tag(lab3, phi_ax, "TNPH", "#0000ff", (0.111, 4089.72), (0.154, 4091.76))
tag(lab3, rho_ax, "RHON", "#ff0000", (2.467, 4092.2), (2.391, 4094.06))
tag(lab3, phi_ax, "BPHI", "#1e90ff", (0.159, 4094.65), (0.200, 4096.36))


# ----- variable-density strips: curve level rendered as an ordered dither -----
def strip(x0, w, pairs, color, mid, lo, hi):
    ax = fig.add_axes([x0 / W, 0, w / W, 1])
    d, v = split(pairs)
    rows = H
    grid = np.linspace(TOP, BASE, rows)
    level = np.clip((np.interp(grid, d, v) - lo) / (hi - lo), 0, 1)
    thresh = (np.arange(rows) * 0.6180339887) % 1.0
    code = np.where(thresh < level, 2, np.where(thresh < level + 0.5 * (1 - level), 1, 0))
    cmap = ListedColormap(["white", mid, color])
    ax.imshow(code[:, None], aspect="auto", cmap=cmap, vmin=0, vmax=2,
              extent=(0, 1, BASE, TOP), interpolation="nearest")
    ax.set_xlim(0, 1)
    ax.set_ylim(BASE, TOP)
    ax.set_axis_off()
    ax.axvline(0, color="#8a8a8a", lw=1.0)
    ax.axvline(1, color="#8a8a8a", lw=1.0)
    return ax


strip(479, 13, GR, "#008000", "#5faf5f", 5, 45)
strip(612, 12, P40H, "black", "#7a7a7a", 3.0, 5.3)
strip(1103, 13, RHON, "#ff0000", "#ff7070", 1.95, 2.5)
strip(1572, 12, TNPH, "#0000ff", "#6f6fff", 0.0, 0.24)

fig.savefig("out.png", dpi=100)
